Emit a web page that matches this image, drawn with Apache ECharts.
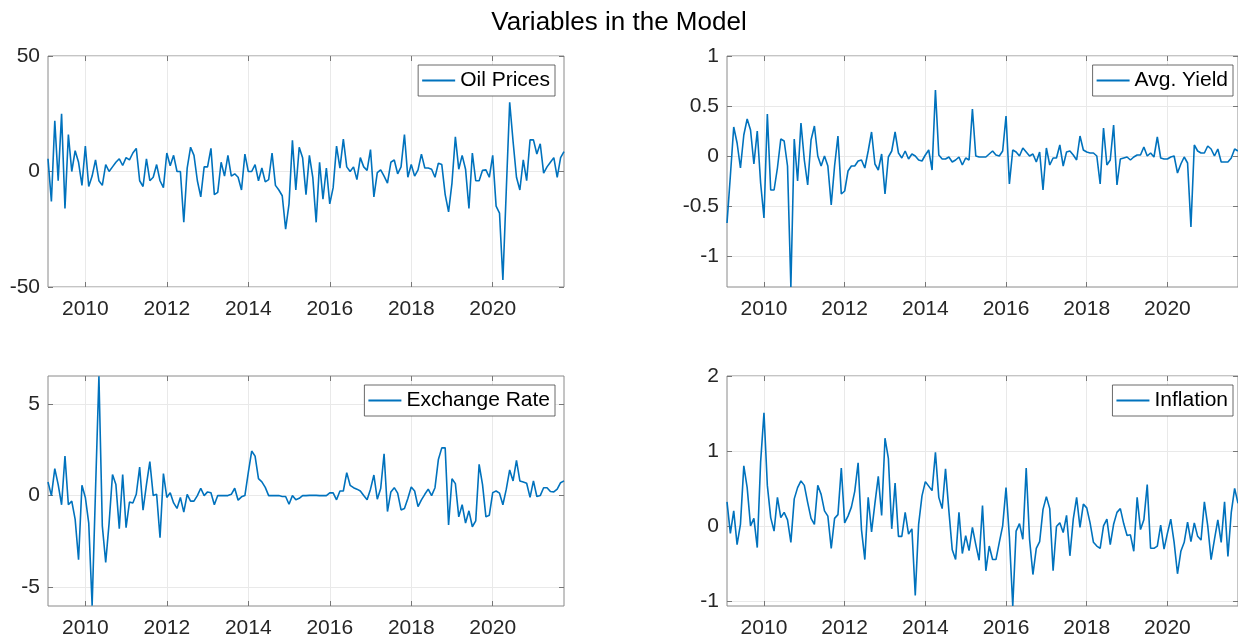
<!DOCTYPE html>
<html>
<head>
<meta charset="utf-8">
<script src="https://cdn.jsdelivr.net/npm/echarts@6/dist/echarts.min.js"></script>
<style>
  html, body { margin: 0; padding: 0; background: #fff; }
  #main { width: 1238px; height: 639px; }
</style>
</head>
<body>
<div id="main"></div>
<script>
// monthly observations, Feb 2009 .. Oct 2021
var startYear = 2009, startMonth = 2, nObs = 153

var oilPrices = [5.5, -13, 22, -4, 25, -16, 16, 0, 9, 4, -6, 11, -6.5, -2, 5, -4, -6, 3, 0, 2,
  4, 5.5, 2.6, 6, 5, 8, 10, -4, -6.5, 5.5, -4, -2.5, 3, -4, -7, 8, 2.5, 7, 0, 0,
  -22, 1.5, 10.5, 7, -4, -11, 2, 2, 10, -10, -9, 4, -2, 7, -2, -1, -2.5, -8, 7.5, 0,
  0, 3, -4, 1.5, -4.5, -3.5, 8, -6, -8, -10.5, -25, -14, 13.5, -8, 10.5, 6, -10, 7, -2.5, -22,
  4, -12, 1.5, -14, -7, 11, 1.5, 14, 2, 0, 2, -3.5, 6, 2, 0.5, 9.5, -11, -0.5, 0.7, -2,
  -5, 4, 5, -1, 2, 16, -2.5, 3, -2, 0.7, 7.5, 1.5, 1.5, 1, -2.5, 3.6, 3, -10, -17.5, -5,
  15, 1, 7, 1, -16, 8, -4, -4, 0.5, 0.7, -2.5, 7, -15, -18, -47, -8, 30, 13, -2.5, -8,
  5, -4, 13.7, 13.7, 7.6, 12, -0.7, 2, 4, 6, -2.5, 6, 8.6]

var avgYield = [-0.67, -0.2, 0.29, 0.13, -0.12, 0.21, 0.37, 0.26, -0.08, 0.25, -0.27, -0.62, 0.42, -0.34, -0.34, -0.12, 0.17, 0.15, -0.1, -1.31,
  0.17, -0.25, 0.33, -0.04, -0.29, 0.16, 0.3, 0, -0.1, 0, -0.1, -0.49, -0.1, 0.2, -0.38, -0.35, -0.15, -0.1, -0.1, -0.05,
  -0.04, -0.12, 0.05, 0.24, -0.08, -0.14, 0.02, -0.38, -0.01, 0.05, 0.24, 0.03, -0.02, 0.05, -0.03, 0.02, 0, -0.04, -0.05, 0.01,
  0.06, -0.14, 0.66, 0.01, -0.03, -0.03, -0.01, -0.06, -0.04, -0.01, -0.09, -0.02, -0.04, 0.47, 0, -0.01, -0.01, -0.01, 0.02, 0.05,
  0.01, 0, 0.05, 0.4, -0.28, 0.06, 0.04, 0, 0.08, 0.04, 0, 0.02, -0.06, 0.04, -0.34, 0.08, -0.09, -0.02, -0.02, 0.11,
  -0.1, 0.04, 0.05, 0.01, -0.04, 0.2, 0.06, 0.04, 0.03, 0.03, 0, -0.28, 0.28, -0.09, -0.04, 0.31, -0.29, -0.03, -0.02, -0.01,
  -0.04, -0.01, 0.01, 0.01, 0.09, 0, 0.03, -0.01, 0.19, -0.02, -0.03, -0.03, -0.01, 0, -0.17, -0.08, -0.01, -0.07, -0.71, 0.11,
  0.05, 0.03, 0.03, 0.1, 0.07, 0, 0.07, -0.06, -0.06, -0.06, -0.02, 0.07, 0.05]

var exchangeRate = [0.74, 0, 1.47, 0.6, -0.5, 2.15, -0.5, -0.3, -1.3, -3.5, 0.56, -0.1, -1.5, -6.0, 0.3, 6.5, -1.65, -3.65, -1.5, 1.15,
  0.6, -1.8, 1.15, -1.75, -0.35, -0.4, 0.07, 1.55, -0.8, 0.6, 1.85, 0, 0.07, -2.3, 1.2, -0.1, 0.15, -0.4, -0.7, -0.1,
  -0.9, 0.07, -0.3, -0.3, 0, 0.4, 0, 0.2, 0.15, -0.5, 0, 0, 0, 0, 0.07, 0.4, -0.25, -0.07, 0, 1.25,
  2.43, 2.15, 0.92, 0.75, 0.45, 0, 0, 0, 0, -0.05, -0.05, -0.47, 0, -0.23, -0.15, 0, 0, 0.01, 0.01, 0.01,
  0, 0, 0, 0.15, 0.15, -0.23, 0.25, 0.25, 1.25, 0.56, 0.43, 0.35, 0.25, 0, -0.23, 0.35, 1.12, -0.2, 0.38, 2.28,
  -0.87, 0.2, 0.43, 0.13, -0.78, -0.7, -0.16, 0.47, 0.25, -0.6, -0.23, 0.07, 0.35, 0, 0.43, 1.97, 2.6, 2.6, -1.6, 0.92,
  0.65, -1.16, -0.5, -1.5, -0.83, -1.7, -1.38, 1.7, 0.6, -1.16, -1.07, 0.16, 0.25, 0.13, -0.5, 0.35, 1.4, 0.8, 1.92, 0.8,
  0.74, 0.67, -0.1, 0.8, -0.05, 0, 0.43, 0.43, 0.22, 0.2, 0.35, 0.7, 0.8]

var inflation = [0.32, -0.1, 0.2, -0.25, 0.02, 0.8, 0.51, 0, 0.1, -0.29, 0.85, 1.51, 0.54, 0.11, -0.07, 0.38, 0.11, 0.18, 0.08, -0.22,
  0.36, 0.51, 0.6, 0.54, 0.31, 0.1, 0.02, 0.54, 0.42, 0.2, 0.13, -0.3, 0.1, 0.15, 0.77, 0.04, 0.13, 0.25, 0.46, 0.84,
  -0.05, -0.45, 0.38, -0.08, 0.3, 0.66, 0.14, 1.17, 0.9, -0.04, 0.57, -0.14, -0.14, 0.18, -0.11, -0.04, -0.93, 0.02, 0.4, 0.59,
  0.53, 0.47, 0.98, 0.38, 0.23, 0.76, 0.2, -0.32, -0.45, 0.18, -0.37, -0.13, -0.33, -0.02, -0.25, -0.46, 0.27, -0.6, -0.27, -0.45,
  -0.45, -0.22, 0, 0.51, -0.15, -1.07, -0.07, 0.03, -0.18, 0.77, -0.18, -0.65, -0.3, -0.21, 0.22, 0.39, 0.23, -0.6, -0.01, 0.04,
  -0.09, 0.14, -0.4, 0.09, 0.38, -0.02, 0.29, 0.24, 0.04, -0.22, -0.27, -0.3, 0, 0.09, -0.25, 0.02, 0.18, 0.23, 0.03, -0.13,
  -0.12, -0.34, 0.38, -0.05, 0.08, 0.55, -0.3, -0.3, -0.27, 0.01, -0.31, -0.1, 0.09, -0.22, -0.64, -0.34, -0.22, 0.05, -0.21, 0.04,
  -0.14, -0.19, 0.32, 0, -0.45, -0.18, 0.08, -0.22, 0.32, -0.41, 0.18, 0.5, 0.3]

var yearTicks = [2010, 2012, 2014, 2016, 2018, 2020]

var panels = [
  { name: 'Oil Prices', values: oilPrices, yMin: -50, yMax: 50, yTicks: [-50, 0, 50] },
  { name: 'Avg. Yield', values: avgYield, yMin: -1.31, yMax: 1, yTicks: [-1, -0.5, 0, 0.5, 1] },
  { name: 'Exchange Rate', values: exchangeRate, yMin: -6.02, yMax: 6.52, yTicks: [-5, 0, 5] },
  { name: 'Inflation', values: inflation, yMin: -1.07, yMax: 2, yTicks: [-1, 0, 1, 2] }
]

var dates = []
for (var k = 0; k < nObs; k++) {
  dates.push(startYear + (startMonth - 1 + k) / 12)
}

// layout of the 2x2 subplots (right column runs past the page edge)
var boxes = [
  { left: 48, top: 56, legendRight: 683, legendTop: 65 },
  { left: 727, top: 56, legendRight: 5, legendTop: 65 },
  { left: 48, top: 376, legendRight: 683, legendTop: 385 },
  { left: 727, top: 376, legendRight: 5, legendTop: 385 }
]
var boxW = 516, boxH = 231
var font = 'Liberation Sans, Helvetica, Arial, sans-serif'
var blue = '#0072BD'

var Options = {
  backgroundColor: '#fff',
  animation: false,
  title: {
    text: 'Variables in the Model',
    left: 'center',
    top: 5,
    textStyle: { fontFamily: font, fontSize: 26, fontWeight: 'normal', color: '#000' }
  },
  grid: [],
  xAxis: [],
  yAxis: [],
  legend: [],
  series: []
}

function plain (v) { return String(v) }

panels.forEach(function (p, g) {
  var b = boxes[g]
  Options.grid.push({
    left: b.left, top: b.top, width: boxW, height: boxH,
    show: true, borderColor: '#8a8a8a', borderWidth: 1, backgroundColor: '#fff'
  })
  var xMin = dates[0], xMax = dates[dates.length - 1]
  // bottom axis with labels
  Options.xAxis.push({
    type: 'value', gridIndex: g, min: xMin, max: xMax, position: 'bottom',
    axisLine: { show: false, onZero: false },
    axisTick: { show: true, inside: true, length: 5, customValues: yearTicks, lineStyle: { color: '#777' } },
    axisLabel: { customValues: yearTicks, formatter: plain, margin: 12, fontSize: 21, fontFamily: font, color: '#262626' },
    splitLine: { show: true, lineStyle: { color: '#e9e9e9', width: 1 } }
  })
  // top axis, ticks only
  Options.xAxis.push({
    type: 'value', gridIndex: g, min: xMin, max: xMax, position: 'top',
    axisLine: { show: false, onZero: false },
    axisTick: { show: true, inside: true, length: 5, customValues: yearTicks, lineStyle: { color: '#777' } },
    axisLabel: { show: false },
    splitLine: { show: false }
  })
  Options.yAxis.push({
    type: 'value', gridIndex: g, min: p.yMin, max: p.yMax, position: 'left',
    axisLine: { show: false, onZero: false },
    axisTick: { show: true, inside: true, length: 5, customValues: p.yTicks, lineStyle: { color: '#777' } },
    axisLabel: { customValues: p.yTicks, formatter: plain, margin: 8, fontSize: 21, fontFamily: font, color: '#262626' },
    splitLine: { show: true, lineStyle: { color: '#e9e9e9', width: 1 } }
  })
  Options.yAxis.push({
    type: 'value', gridIndex: g, min: p.yMin, max: p.yMax, position: 'right',
    axisLine: { show: false, onZero: false },
    axisTick: { show: true, inside: true, length: 5, customValues: p.yTicks, lineStyle: { color: '#777' } },
    axisLabel: { show: false },
    splitLine: { show: false }
  })
  Options.legend.push({
    data: [p.name],
    right: b.legendRight,
    top: b.legendTop,
    orient: 'horizontal',
    backgroundColor: '#fff',
    borderColor: '#444',
    borderWidth: 0.8,
    borderRadius: 0,
    padding: [5, 5, 5, 4],
    icon: 'rect',
    itemWidth: 33,
    itemHeight: 2,
    selectedMode: false,
    itemStyle: { color: blue },
    textStyle: { fontSize: 21, fontFamily: font, color: '#000', lineHeight: 21 }
  })
  var pts = []
  for (var i = 0; i < p.values.length; i++) {
    pts.push([dates[i], p.values[i]])
  }
  Options.series.push({
    type: 'line',
    name: p.name,
    xAxisIndex: 2 * g,
    yAxisIndex: 2 * g,
    data: pts,
    symbol: 'none',
    clip: true,
    lineStyle: { color: blue, width: 1.6 },
    itemStyle: { color: blue }
  })
})

var Chart = echarts.init(document.getElementById('main'))
Chart.setOption(Options)
</script>
</body>
</html>
